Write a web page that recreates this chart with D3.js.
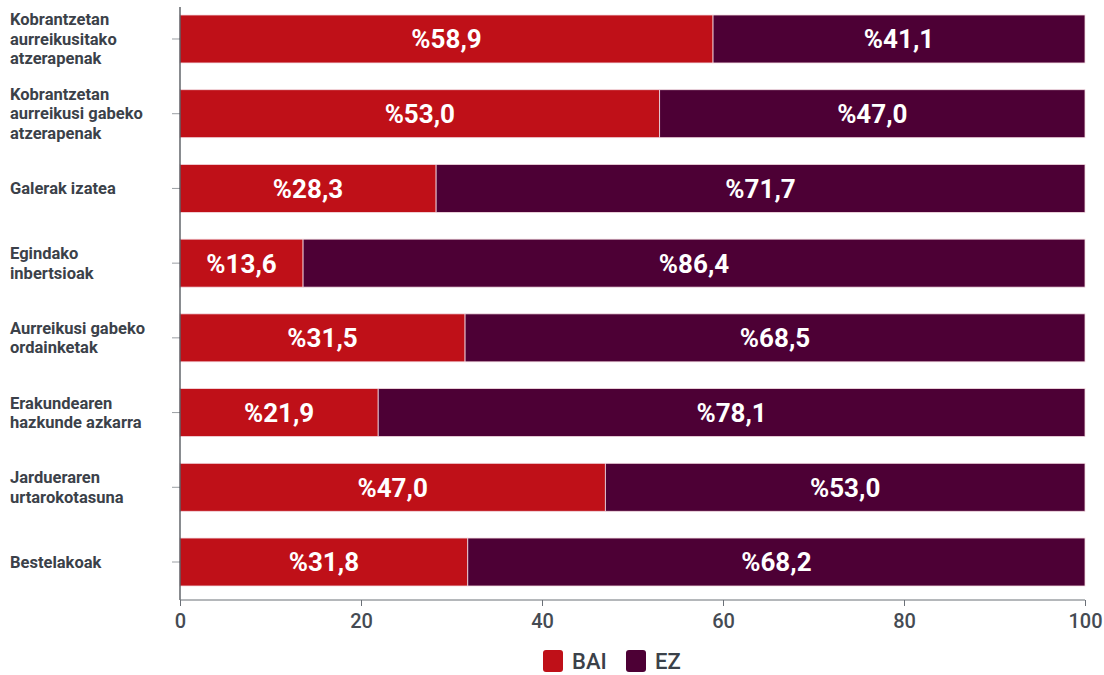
<!DOCTYPE html>
<html>
<head>
<meta charset="utf-8">
<script src="https://cdn.jsdelivr.net/npm/d3@7"></script>
<style>
  html, body { margin: 0; padding: 0; background: #ffffff; }
  svg { display: block; font-family: Roboto, "Noto Sans", sans-serif; }
</style>
</head>
<body>
<svg id="chart" width="1104" height="675"></svg>
<script>
// ---- data ----
const categories = [
  ["Kobrantzetan", "aurreikusitako", "atzerapenak"],
  ["Kobrantzetan", "aurreikusi gabeko", "atzerapenak"],
  ["Galerak izatea"],
  ["Egindako", "inbertsioak"],
  ["Aurreikusi gabeko", "ordainketak"],
  ["Erakundearen", "hazkunde azkarra"],
  ["Jardueraren", "urtarokotasuna"],
  ["Bestelakoak"]
];
const baiValues = [58.9, 53.0, 28.3, 13.6, 31.5, 21.9, 47.0, 31.8];
const ezValues  = [41.1, 47.0, 71.7, 86.4, 68.5, 78.1, 53.0, 68.2];
const seriesNames = ["BAI", "EZ"];
const seriesColors = ["#bf1018", "#4d0035"];
const xTicks = [0, 20, 40, 60, 80, 100];

(function () {
// ---- layout ----
const svg = d3.select("#chart");
const mLeft = 180, mRight = 1085, mTop = 15, mBottom = 586, axisY = 600;

const keys = categories.map((c, i) => "c" + i);
const rows = keys.map((k, i) => ({ key: k, lines: categories[i], BAI: baiValues[i], EZ: ezValues[i] }));

const x = d3.scaleLinear().domain([0, 100]).range([mLeft, mRight]);
const y = d3.scaleBand().domain(keys).range([mTop, mBottom]).paddingInner(0.358).paddingOuter(0);

const stacked = d3.stack().keys(seriesNames)(rows);
const color = d3.scaleOrdinal().domain(seriesNames).range(seriesColors);

// bars
const layers = svg.append("g").selectAll("g").data(stacked).join("g")
  .attr("fill", d => color(d.key));
layers.selectAll("rect").data(d => d.map(v => ({ v, key: d.key }))).join("rect")
  .attr("x", d => x(d.v[0]))
  .attr("y", d => y(d.v.data.key))
  .attr("width", d => x(d.v[1]) - x(d.v[0]))
  .attr("height", y.bandwidth())
  .attr("stroke", "#f4dbe2")
  .attr("stroke-width", 0.8);

// value labels
layers.selectAll("text").data(d => d.map(v => ({ v, key: d.key }))).join("text")
  .attr("x", d => (x(d.v[0]) + x(d.v[1])) / 2)
  .attr("y", d => y(d.v.data.key) + y.bandwidth() / 2)
  .attr("dy", "0.36em")
  .attr("text-anchor", "middle")
  .attr("fill", "#ffffff")
  .attr("font-size", 26)
  .attr("font-weight", 700)
  .text(d => "%" + d3.format(".1f")(d.v.data[d.key]).replace(".", ","));

// y axis
const yAxis = d3.axisLeft(y).tickSize(8).tickFormat("");
const gy = svg.append("g").attr("transform", `translate(${mLeft},0)`).call(yAxis);
gy.select(".domain").remove();
gy.selectAll(".tick line").attr("stroke", "#9a9ea3");
svg.append("line").attr("x1", mLeft).attr("x2", mLeft).attr("y1", 7).attr("y2", axisY)
  .attr("stroke", "#3a3f45").attr("stroke-width", 1.2);

// category labels
const lh = 19.5;
const labels = svg.append("g").selectAll("text").data(rows).join("text")
  .attr("x", 10)
  .attr("y", d => y(d.key) + y.bandwidth() / 2 - (d.lines.length - 1) * lh / 2)
  .attr("fill", "#3b4149")
  .attr("font-size", 16.5)
  .attr("font-weight", 700);
labels.selectAll("tspan").data(d => d.lines).join("tspan")
  .attr("x", 10)
  .attr("dy", (d, i) => i === 0 ? "0.35em" : lh)
  .text(d => d);

// x axis
const xAxis = d3.axisBottom(x).tickValues(xTicks).tickSize(6).tickPadding(8).tickFormat(d3.format("d"));
const gx = svg.append("g").attr("transform", `translate(0,${axisY})`).call(xAxis);
gx.select(".domain").attr("stroke", "#6b7077").attr("d", `M${mLeft},0H${mRight}`);
gx.selectAll(".tick line").attr("stroke", "#6b7077");
gx.selectAll(".tick text").attr("fill", "#454b53").attr("font-size", 20).attr("font-weight", 500)
  .attr("font-family", "Roboto, sans-serif");

// legend
const legend = svg.append("g").selectAll("g").data(seriesNames).join("g")
  .attr("transform", (d, i) => `translate(${[543, 626][i]},650)`);
legend.append("rect").attr("width", 20).attr("height", 22).attr("rx", 3)
  .attr("fill", d => color(d));
legend.append("text").attr("x", 29).attr("y", 11).attr("dy", "0.36em")
  .attr("fill", "#3b4149").attr("font-size", 22).attr("font-weight", 500)
  .text(d => d);
})();
</script>
</body>
</html>
